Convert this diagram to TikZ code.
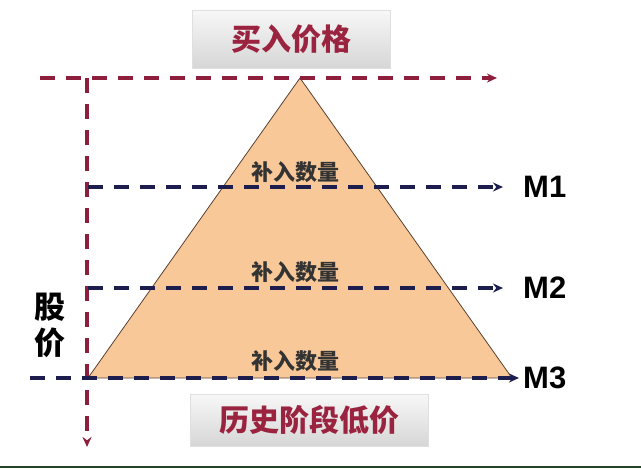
\documentclass[tikz,border=0pt]{standalone}
\usepackage{fontspec}
\setmainfont{Liberation Sans}
\newfontfamily\cjk{Noto Sans CJK SC}
\usetikzlibrary{arrows.meta}

\definecolor{pyramid}{HTML}{F9C898}
\definecolor{edgebrown}{HTML}{5A4030}
\definecolor{darkred}{HTML}{8E1F3C}
\definecolor{navy}{HTML}{1E1E4E}
\definecolor{textred}{HTML}{9A2340}

\tikzset{
  reddash/.style={darkred, line width=4pt, dash pattern=on 15pt off 11pt, -{Stealth[length=10pt,width=9pt]}},
  bluedash/.style={navy, line width=3.6pt, dash pattern=on 15pt off 11pt, -{Stealth[length=10pt,width=9pt]}},
  pricebox/.style={top color=gray!6, bottom color=gray!32, draw=gray!25, inner sep=0pt,
    font=\cjk\bfseries\fontsize{30}{34}\selectfont, text=textred},
  qtylabel/.style={font=\cjk\bfseries\fontsize{22}{24}\selectfont, text=black!80},
  mlabel/.style={font=\bfseries\fontsize{31}{36}\selectfont, text=black, anchor=west, inner sep=0pt}
}

\begin{document}
\begin{tikzpicture}[x=1pt,y=-1pt]
\useasboundingbox (0,0) rectangle (641,469);

% boxes
\node[pricebox, minimum width=198pt, minimum height=58pt] (buy) at (291,39) {买入价格};
\node[pricebox, minimum width=238pt, minimum height=52pt] (low) at (309,420) {历史阶段低价};

% pyramid
\coordinate (apex) at (300,78);
\coordinate (baseL) at (88,378);
\coordinate (baseR) at (512,378);
\filldraw[fill=pyramid, draw=edgebrown, line width=0.8pt] (apex) -- (baseL) -- (baseR) -- cycle;

% price axes
\coordinate (topS) at (40,78);
\coordinate (topE) at (497,78);
\coordinate (axS) at (87,78);
\coordinate (axE) at (87,447);
\draw[reddash] (topS) -- (topE);
\draw[reddash] (axS) -- (axE);

% levels
\node[mlabel] (m1) at (523,187) {M1};
\node[mlabel] (m2) at (523,288) {M2};
\node[mlabel] (m3) at (523,378) {M3};
\coordinate (m1s) at (88,187);
\coordinate (m2s) at (88,288);
\coordinate (m3s) at (30,378);
\draw[bluedash] (m1s) -- ([xshift=-20pt]m1.west);
\draw[bluedash] (m2s) -- ([xshift=-20pt]m2.west);
\draw[bluedash] (m3s) -- ([xshift=-4pt]m3.west);

\node[qtylabel] (q1) at (295,172) {补入数量};
\node[qtylabel] (q2) at (295,272) {补入数量};
\node[qtylabel] (q3) at (295,361) {补入数量};

\node[font=\cjk\bfseries\fontsize{31}{36}\selectfont, align=center, inner sep=0pt] (price) at (50,325) {股\\价};

% bottom rule
\draw[gray!70!green!40!black, line width=2pt] (0,467) -- (641,467);
\end{tikzpicture}
\end{document}
